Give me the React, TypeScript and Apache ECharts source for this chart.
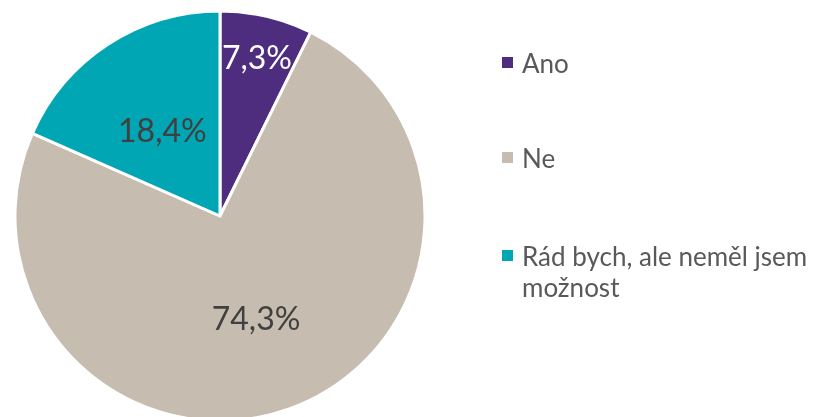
import React, { useEffect, useRef } from "react";
import * as echarts from "echarts";

const categories = ["Ano", "Ne", "Rád bych, ale neměl jsem možnost"];
const values = [7.3, 74.3, 18.4];
const colors = ["#4E2C7E", "#C6BDB0", "#00A6B4"];
const labelColors = ["#FFFFFF", "#404040", "#404040"];

export default function App() {
  const ref = useRef<HTMLDivElement>(null);
  useEffect(() => {
    if (!ref.current) return;
    const chart = echarts.init(ref.current, null, { renderer: "svg" });
    const legendBase = {
      orient: "vertical",
      left: 502,
      padding: 0,
      icon: "path://M0,0H11V11H0Z M15,5.5h0.01v0.01h-0.01Z",
      itemWidth: 15.01,
      itemHeight: 11,
      selectedMode: false,
      itemStyle: { borderWidth: 0 },
      textStyle: {
        fontFamily: "Lato",
        fontSize: 26,
        color: "#595959",
        lineHeight: 31,
      },
    };
    chart.setOption({
      animation: false,
      legend: [
        { ...legendBase, top: 47, data: [categories[0]] },
        { ...legendBase, top: 142, data: [categories[1]] },
        {
          ...legendBase,
          top: 209,
          data: [categories[2]],
          formatter: () => "\nRád bych, ale neměl jsem\nmožnost",
        },
      ],
      series: [
        {
          type: "pie",
          center: [220, 216],
          radius: 205,
          startAngle: 90,
          clockwise: true,
          itemStyle: { borderColor: "#FFFFFF", borderWidth: 3 },
          label: {
            show: true,
            position: "inside",
            fontFamily: "Lato",
            fontSize: 32,
            formatter: (p: any) => p.value.toFixed(1).replace(".", ",") + "%",
          },
          labelLine: { show: false },
          labelLayout: (p: any) =>
            p.dataIndex === 0 ? { dx: 13, dy: -57 } : { dy: 2 },
          emphasis: { disabled: true },
          data: categories.map((name, i) => ({
            name,
            value: values[i],
            itemStyle: { color: colors[i] },
            label: { color: labelColors[i] },
          })),
        },
      ],
    });
    return () => chart.dispose();
  }, []);
  return (
    <div
      ref={ref}
      style={{ position: "fixed", left: 0, top: 0, width: 813, height: 417 }}
    />
  );
}
